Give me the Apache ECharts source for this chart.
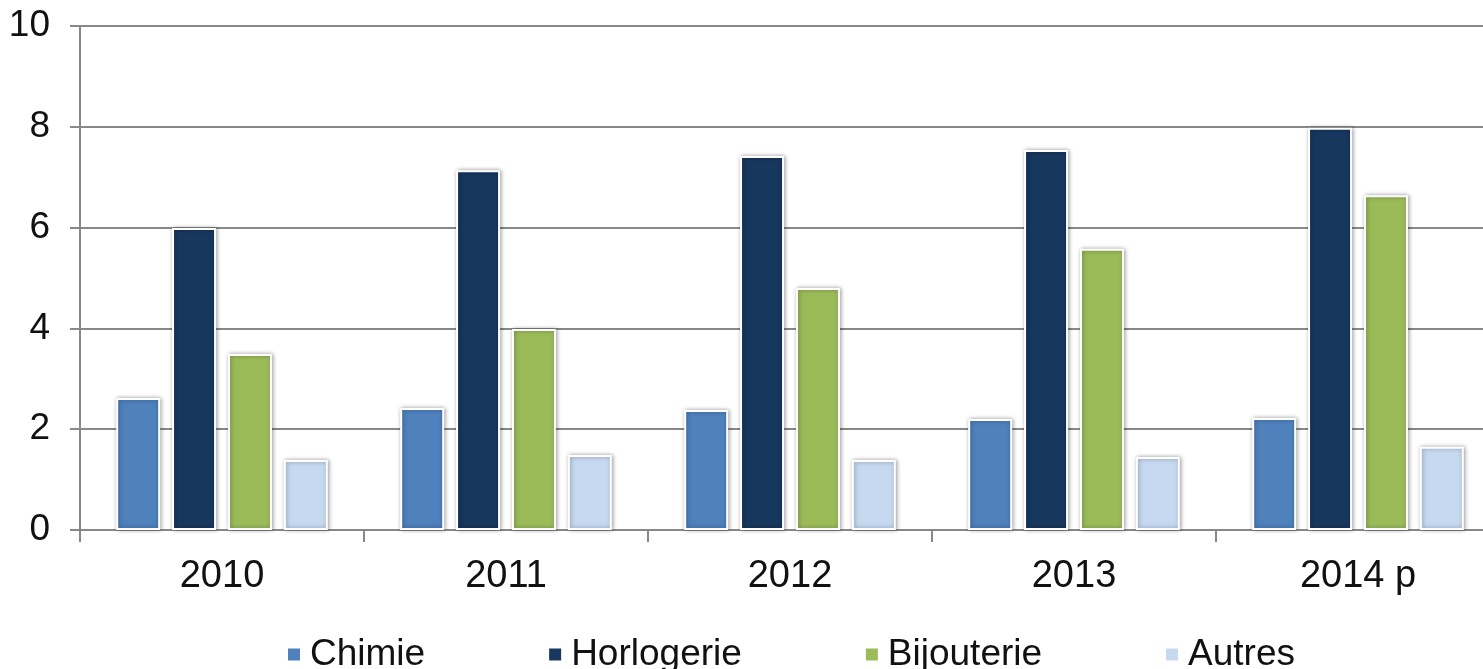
<!DOCTYPE html>
<html>
<head>
<meta charset="utf-8">
<script src="https://cdn.jsdelivr.net/npm/echarts@6/dist/echarts.min.js"></script>
<style>
  html, body { margin: 0; padding: 0; background: #fff; overflow: hidden; }
  #chart { width: 1500px; height: 669px; }
</style>
</head>
<body>
<div id="chart"></div>
<script>
const years = ['2010', '2011', '2012', '2013', '2014 p']
const chimie = [2.62, 2.42, 2.38, 2.2, 2.22]
const horlogerie = [5.99, 7.14, 7.42, 7.54, 7.98]
const bijouterie = [3.49, 3.99, 4.8, 5.58, 6.64]
const autres = [1.39, 1.49, 1.39, 1.45, 1.65]
const yTicks = [0, 2, 4, 6, 8, 10]

const fontFamily = '"Liberation Sans", Arial, sans-serif'

// the plot runs past the right edge of the picture, so the div is a bit wider than the window
const chart = echarts.init(document.getElementById('chart'))

function barSeries(name, data, color) {
  return {
    name: name,
    type: 'bar',
    data: data,
    barWidth: 44,
    barGap: '27%',
    animation: false,
    itemStyle: {
      color: color,
      borderColor: '#fff',
      borderWidth: 2,
      shadowColor: 'rgba(0,0,0,0.35)',
      shadowBlur: 4,
      shadowOffsetX: 1
    }
  }
}

chart.setOption({
  backgroundColor: '#fff',
  textStyle: { fontFamily: fontFamily },
  grid: { left: 80, top: 26, right: 0, height: 504 },
  legend: {
    left: 281,
    top: 631,
    icon: 'rect',
    itemWidth: 14,
    itemHeight: 14,
    itemGap: 122,
    textStyle: { fontSize: 37, color: '#111', fontFamily: fontFamily, padding: [0, 0, 0, 4] },
    data: ['Chimie', 'Horlogerie', 'Bijouterie', 'Autres']
  },
  xAxis: {
    type: 'category',
    data: years,
    axisLine: { lineStyle: { color: '#888', width: 2 } },
    axisTick: { show: true, length: 12, lineStyle: { color: '#888', width: 2 } },
    axisLabel: { fontSize: 38, color: '#111', margin: 28 }
  },
  yAxis: {
    type: 'value',
    min: yTicks[0],
    max: yTicks[yTicks.length - 1],
    interval: 2,
    axisLine: { show: true, lineStyle: { color: '#888', width: 2 } },
    axisTick: { show: true, length: 10, lineStyle: { color: '#888', width: 2 } },
    axisLabel: { fontSize: 37, color: '#111', margin: 30 },
    splitLine: { lineStyle: { color: '#888', width: 2 } }
  },
  series: [
    barSeries('Chimie', chimie, '#4f81bd'),
    barSeries('Horlogerie', horlogerie, '#17375e'),
    barSeries('Bijouterie', bijouterie, '#9bbb59'),
    barSeries('Autres', autres, '#c6d9f1')
  ]
})
</script>
</body>
</html>
